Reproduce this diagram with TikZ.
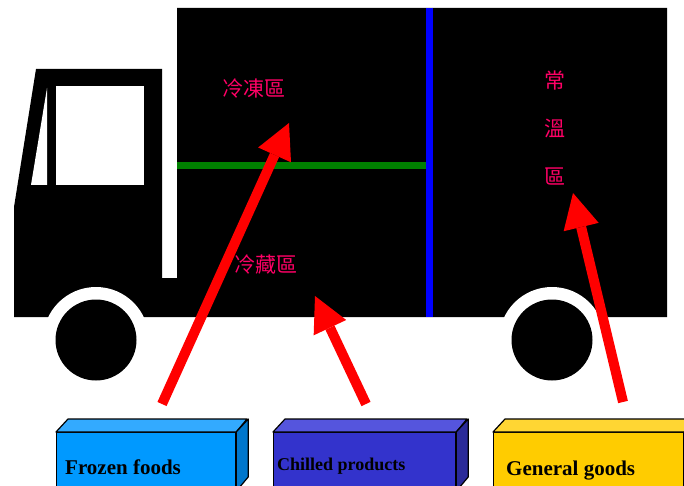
\documentclass[tikz,border=0pt]{standalone}
\usepackage{fontspec}
\setmainfont{Liberation Serif}
\newfontfamily\cjk{Noto Sans CJK TC}
\usetikzlibrary{arrows.meta}

\definecolor{zonepink}{RGB}{255,0,102}
\definecolor{frozenfront}{RGB}{0,153,255}
\definecolor{frozentop}{RGB}{51,170,255}
\definecolor{frozenside}{RGB}{0,119,204}
\definecolor{chilledfront}{RGB}{51,51,204}
\definecolor{chilledtop}{RGB}{85,85,221}
\definecolor{chilledside}{RGB}{42,42,153}
\definecolor{generalfront}{RGB}{255,204,0}
\definecolor{generaltop}{RGB}{255,214,51}
\definecolor{generalside}{RGB}{204,163,0}

\begin{document}
\begin{tikzpicture}[x=1pt, y=-1pt,
	zone/.style={text=zonepink, font=\cjk\fontsize{21}{48}\selectfont, align=center, inner sep=0pt},
	pointer/.style={draw=red, line width=10pt, -{Triangle[length=35pt, width=36pt, line width=0pt]}},
	crate/.style={draw, line width=1.2pt, anchor=north west, minimum height=58pt, inner sep=0pt},
	face/.style={draw, line width=1.2pt, line join=round},
	tag/.style={anchor=base west, inner sep=0pt, font=\bfseries\fontsize{21}{24}\selectfont}]
	\useasboundingbox (0,0) rectangle (684,486);

	% truck: cab and cargo box
	\fill (36,69) -- (162,69) -- (162,278) -- (177,278) -- (177,8) -- (667,8)
		-- (667,317) -- (14,317) -- (14,207) -- cycle;
	\fill[white] (56,86) rectangle (144,185);
	\fill[white] (47,88) -- (47,185) -- (31,185) -- cycle;
	\draw[green!50!black, line width=7pt] (177,166) -- (429,166);
	\draw[blue, line width=7pt] (429,8) -- (429,317);
	\foreach \wx in {96,552} {
		\fill[white] (\wx,340) circle[radius=53pt];
		\fill (\wx,340) circle[radius=40.5pt];
	}

	% zones
	\node[zone] (frozenzone) at (254,89) {冷凍區};
	\node[zone] (chilledzone) at (266,265) {冷藏區};
	\node[zone] (generalzone) at (555,128) {常\\溫\\區};

	% crates
	\foreach \name/\x/\w in {frozen/56/179, chilled/273/182, general/493/190} {
		\node[crate, fill=\name front, minimum width=\w pt] (\name) at (\x,432) {};
		\filldraw[face, fill=\name top] (\name.north west) -- ++(12,-13) -- ++(\w,0) -- (\name.north east) -- cycle;
		\filldraw[face, fill=\name side] (\name.north east) -- ++(12,-13) -- ++(0,58) -- (\name.south east) -- cycle;
	}
	\node[tag] (frozenlabel) at (65,474) {Frozen foods};
	\node[tag, font=\bfseries\fontsize{18}{22}\selectfont] (chilledlabel) at (277,470) {Chilled products};
	\node[tag] (generallabel) at (506,475) {General goods};

	% arrows
	\coordinate (frozentail) at (162,404);
	\coordinate (frozentip) at (289,123);
	\coordinate (chilledtail) at (366,404);
	\coordinate (chilledtip) at (315,296);
	\coordinate (generaltail) at (623,402);
	\coordinate (generaltip) at (573,193);
	\draw[pointer] (frozentail) -- (frozentip);
	\draw[pointer] (chilledtail) -- (chilledtip);
	\draw[pointer] (generaltail) -- (generaltip);
\end{tikzpicture}
\end{document}
